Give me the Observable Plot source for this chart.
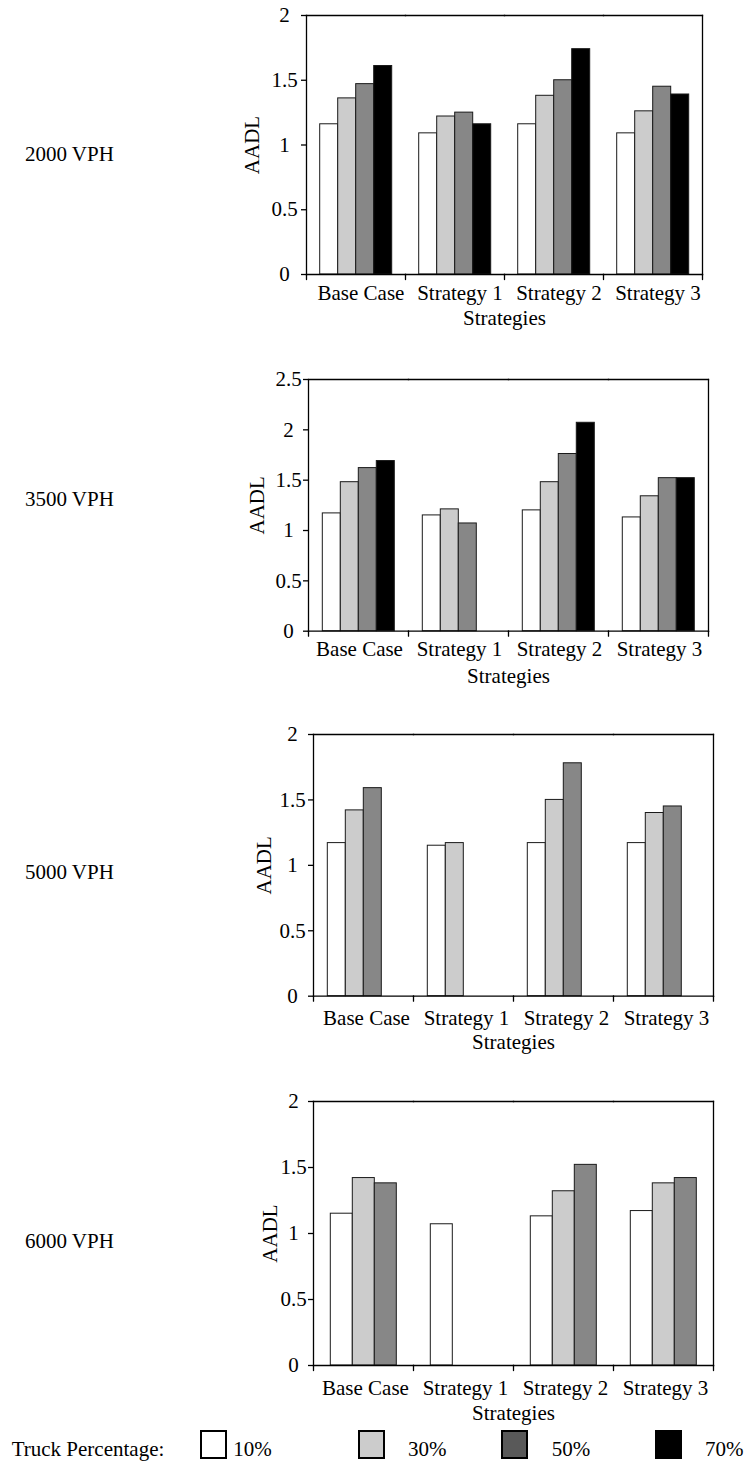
<!DOCTYPE html>
<html>
<head>
<meta charset="utf-8">
<script src="https://cdn.jsdelivr.net/npm/d3@7"></script>
<script src="https://cdn.jsdelivr.net/npm/@observablehq/plot@0.6"></script>
<style>
  html, body { margin: 0; padding: 0; background: #fff; }
  #page { position: relative; width: 749px; height: 1465px; overflow: hidden;
          font-family: "Liberation Serif", Tinos, "Times New Roman", Times, "DejaVu Serif", serif; font-size: 21px; color: #000; }
  .abs { position: absolute; line-height: 21px; white-space: nowrap; }
  .box { position: absolute; box-sizing: border-box; }
  svg { overflow: visible; }
  svg text { font-family: "Liberation Serif", Tinos, "Times New Roman", Times, "DejaVu Serif", serif; }
</style>
</head>
<body>
<div id="page"></div>
<script>
// ---- data ----
const strategies = ["Base Case", "Strategy 1", "Strategy 2", "Strategy 3"];
const truckPct = ["10%", "30%", "50%", "70%"];
const truckFills = ["#ffffff", "#cccccc", "#878787", "#000000"];
const legendFills = ["#ffffff", "#cccccc", "#595959", "#000000"];
const vphLabels = ["2000 VPH", "3500 VPH", "5000 VPH", "6000 VPH"];

// AADL values, one array per strategy, in truck-percentage order (null = no bar)
const v2000_base = [1.16, 1.36, 1.47, 1.61];
const v2000_s1   = [1.09, 1.22, 1.25, 1.16];
const v2000_s2   = [1.16, 1.38, 1.50, 1.74];
const v2000_s3   = [1.09, 1.26, 1.45, 1.39];

const v3500_base = [1.17, 1.48, 1.62, 1.69];
const v3500_s1   = [1.15, 1.21, 1.07, null];
const v3500_s2   = [1.20, 1.48, 1.76, 2.07];
const v3500_s3   = [1.13, 1.34, 1.52, 1.52];

const v5000_base = [1.17, 1.42, 1.59, null];
const v5000_s1   = [1.15, 1.17, null, null];
const v5000_s2   = [1.17, 1.50, 1.78, null];
const v5000_s3   = [1.17, 1.40, 1.45, null];

const v6000_base = [1.15, 1.42, 1.38];
const v6000_s1   = [1.07, null, null];
const v6000_s2   = [1.13, 1.32, 1.52];
const v6000_s3   = [1.17, 1.38, 1.42];

const ticks2 = [0, 0.5, 1, 1.5, 2];
const ticks25 = [0, 0.5, 1, 1.5, 2, 2.5];

// ---- layout (frame placement of each panel) ----
const panels = [
  {label: vphLabels[0], values: [v2000_base, v2000_s1, v2000_s2, v2000_s3], nSeries: 4, yMax: 2, ticks: ticks2,
   L: 304.3, R: 704.3, T: 15, B: 274, tp: 17, cat: 11, cdx: 5, lo: 62, xlo: 50, vphBase: 161.7},
  {label: vphLabels[1], values: [v3500_base, v3500_s1, v3500_s2, v3500_s3], nSeries: 4, yMax: 2.5, ticks: ticks25,
   L: 307.7, R: 707.7, T: 379.3, B: 631, tp: 15, cat: 10, cdx: 1, lo: 59, xlo: 52, vphBase: 506.7},
  {label: vphLabels[2], values: [v5000_base, v5000_s1, v5000_s2, v5000_s3], nSeries: 4, yMax: 2, ticks: ticks2,
   L: 312.7, R: 713.3, T: 734.3, B: 996, tp: 16, cat: 14, cdx: 3, lo: 57, xlo: 53, vphBase: 879.3},
  {label: vphLabels[3], values: [v6000_base, v6000_s1, v6000_s2, v6000_s3], nSeries: 3, yMax: 2, ticks: ticks2,
   L: 312.7, R: 713.3, T: 1101, B: 1365, tp: 15, cat: 15, cdx: 2, lo: 51, xlo: 54, vphBase: 1248.3}
];

const page = document.getElementById("page");
const FONT = "'Liberation Serif', Tinos, 'Times New Roman', Times, 'DejaVu Serif', serif";
const MT = 15, MB = 64, W = 749;

const tickShape = {draw(ctx, l) { ctx.moveTo(0, 0); ctx.lineTo(0, -l); }};

function chart(p) {
  const rows = [];
  p.values.forEach((vals, i) => vals.forEach((v, j) => {
    if (v != null) rows.push({strategy: strategies[i], truck: truckPct[j], aadl: v});
  }));
  const series = truckPct.slice(0, p.nSeries);
  return Plot.plot({
    width: W,
    height: MT + (p.B - p.T) + MB,
    marginLeft: p.L, marginRight: W - p.R, marginTop: MT, marginBottom: MB,
    style: {fontFamily: FONT, fontSize: "21px", color: "#000", background: "transparent", overflow: "visible"},
    fx: {domain: strategies, padding: 0, label: null},
    x: {domain: series, paddingInner: 0, paddingOuter: 0.75, axis: null},
    y: {domain: [0, p.yMax], label: null},
    color: {type: "ordinal", domain: truckPct, range: truckFills},
    marks: [
      Plot.barY(rows, {fx: "strategy", x: "truck", y: "aadl", fill: "truck", stroke: "#1a1a1a", strokeWidth: 1}),
      Plot.frame({anchor: "top", stroke: "#000", strokeWidth: 1.3}),
      Plot.frame({anchor: "bottom", stroke: "#000", strokeWidth: 1.3}),
      Plot.frame({anchor: "left", stroke: "#000", strokeWidth: 1.3, fx: strategies[0]}),
      Plot.frame({anchor: "right", stroke: "#000", strokeWidth: 1.3, fx: strategies[strategies.length - 1]}),
      Plot.vector(strategies, {fx: d => d, frameAnchor: "bottom-left", length: 5, rotate: 180, anchor: "start",
        shape: tickShape, stroke: "#000", strokeWidth: 1.3}),
      Plot.vector([strategies[strategies.length - 1]], {fx: d => d, frameAnchor: "bottom-right", length: 5, rotate: 180,
        anchor: "start", shape: tickShape, stroke: "#000", strokeWidth: 1.3}),
      Plot.axisY({ticks: p.ticks, tickFormat: d => String(d), tickSize: 5, tickPadding: p.tp, textAnchor: "middle",
        strokeWidth: 1.3, label: "AADL", labelAnchor: "center", labelOffset: p.lo, labelArrow: "none", fontSize: 21}),
      Plot.axisFx({anchor: "bottom", tickSize: 0, tickPadding: p.cat, dx: p.cdx, fontSize: 21,
        label: "Strategies", labelAnchor: "center", labelOffset: p.xlo, labelArrow: "none"})
    ]
  });
}

panels.forEach(p => {
  const svg = chart(p);
  svg.style.position = "absolute";
  svg.style.left = "0px";
  svg.style.top = (p.T - MT) + "px";
  page.appendChild(svg);
  const lab = document.createElement("div");
  lab.className = "abs";
  lab.textContent = p.label;
  lab.style.left = "25px";
  lab.style.top = (p.vphBase - 17.6) + "px";
  page.appendChild(lab);
});

// ---- legend ----
const legendBase = 1456.7;
const lt = document.createElement("div");
lt.className = "abs";
lt.textContent = "Truck Percentage:";
lt.style.left = "11.7px";
lt.style.top = (legendBase - 17.6) + "px";
page.appendChild(lt);

const boxX = [200, 358.3, 501, 655];
const textX = [233.3, 408, 551.7, 705];
truckPct.forEach((t, i) => {
  const b = document.createElement("div");
  b.className = "box";
  b.style.left = boxX[i] + "px";
  b.style.top = "1430px";
  b.style.width = "27px";
  b.style.height = "29px";
  b.style.background = legendFills[i];
  b.style.border = "2px solid #000";
  page.appendChild(b);
  const tx = document.createElement("div");
  tx.className = "abs";
  tx.textContent = t;
  tx.style.left = textX[i] + "px";
  tx.style.top = (legendBase - 17.6) + "px";
  page.appendChild(tx);
});
</script>
</body>
</html>
